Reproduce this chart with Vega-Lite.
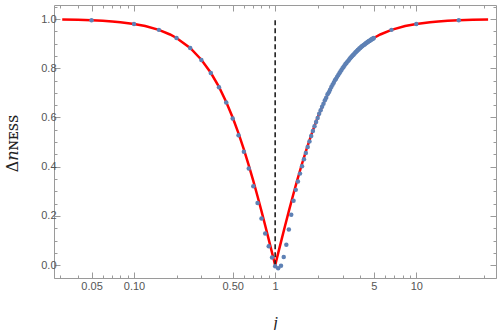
{
  "$schema": "https://vega.github.io/schema/vega-lite/v6.json",
  "width": 442,
  "height": 273,
  "autosize": "none",
  "padding": {"left": 54, "top": 5, "right": 2, "bottom": 52},
  "background": "white",
  "config": {
    "view": {"stroke": "#9a9a9a", "strokeWidth": 1},
    "axis": {
      "domain": false,
      "grid": false,
      "labelColor": "#555555",
      "labelFont": "Liberation Sans",
      "labelFontSize": 11,
      "tickColor": "#9a9a9a",
      "tickWidth": 1
    }
  },
  "datasets": {
    "curve": [
      {"j": 0.031, "v": 0.99808}, {"j": 0.04, "v": 0.99681}, {"j": 0.05, "v": 0.99501}, {"j": 0.06, "v": 0.99283},
      {"j": 0.07, "v": 0.99025}, {"j": 0.08, "v": 0.98728}, {"j": 0.1, "v": 0.9802}, {"j": 0.12, "v": 0.97161},
      {"j": 0.15, "v": 0.95599}, {"j": 0.18, "v": 0.93724}, {"j": 0.2, "v": 0.92308}, {"j": 0.25, "v": 0.88235},
      {"j": 0.3, "v": 0.83486}, {"j": 0.35, "v": 0.78174}, {"j": 0.4, "v": 0.72414}, {"j": 0.45, "v": 0.6632},
      {"j": 0.5, "v": 0.6}, {"j": 0.55, "v": 0.53551}, {"j": 0.6, "v": 0.47059}, {"j": 0.65, "v": 0.40598},
      {"j": 0.7, "v": 0.34228}, {"j": 0.75, "v": 0.28}, {"j": 0.8, "v": 0.21951}, {"j": 0.85, "v": 0.1611},
      {"j": 0.9, "v": 0.10497}, {"j": 0.95, "v": 0.05125}, {"j": 1, "v": 0},
      {"j": 1.0526, "v": 0.05125}, {"j": 1.1111, "v": 0.10497}, {"j": 1.1765, "v": 0.1611}, {"j": 1.25, "v": 0.21951},
      {"j": 1.3333, "v": 0.28}, {"j": 1.4286, "v": 0.34228}, {"j": 1.5385, "v": 0.40598}, {"j": 1.6667, "v": 0.47059},
      {"j": 1.8182, "v": 0.53551}, {"j": 2, "v": 0.6}, {"j": 2.2222, "v": 0.6632}, {"j": 2.5, "v": 0.72414},
      {"j": 2.8571, "v": 0.78174}, {"j": 3.3333, "v": 0.83486}, {"j": 4, "v": 0.88235}, {"j": 5, "v": 0.92308},
      {"j": 5.5556, "v": 0.93724}, {"j": 6.6667, "v": 0.95599}, {"j": 8.3333, "v": 0.97161}, {"j": 10, "v": 0.9802},
      {"j": 12.5, "v": 0.98728}, {"j": 14.286, "v": 0.99025}, {"j": 16.667, "v": 0.99283}, {"j": 20, "v": 0.99501},
      {"j": 25, "v": 0.99681}, {"j": 32.258, "v": 0.99808}
    ],
    "points": [
      {"j": 0.05, "v": 0.995}, {"j": 0.1, "v": 0.98}, {"j": 0.15, "v": 0.956}, {"j": 0.2, "v": 0.923},
      {"j": 0.25, "v": 0.882}, {"j": 0.3, "v": 0.834}, {"j": 0.35, "v": 0.781}, {"j": 0.4, "v": 0.723},
      {"j": 0.45, "v": 0.661}, {"j": 0.5, "v": 0.596}, {"j": 0.55, "v": 0.528}, {"j": 0.6, "v": 0.461},
      {"j": 0.65, "v": 0.393}, {"j": 0.7, "v": 0.321}, {"j": 0.75, "v": 0.253}, {"j": 0.8, "v": 0.19},
      {"j": 0.85, "v": 0.129}, {"j": 0.9, "v": 0.077}, {"j": 0.95, "v": 0.031}, {"j": 1.0, "v": -0.004},
      {"j": 1.05, "v": -0.012}, {"j": 1.1, "v": -0.002}, {"j": 1.15, "v": 0.033}, {"j": 1.2, "v": 0.083},
      {"j": 1.25, "v": 0.145}, {"j": 1.3, "v": 0.205}, {"j": 1.35, "v": 0.262}, {"j": 1.4, "v": 0.306},
      {"j": 1.45, "v": 0.34}, {"j": 1.5, "v": 0.372}, {"j": 1.55, "v": 0.402}, {"j": 1.6, "v": 0.43},
      {"j": 1.65, "v": 0.456}, {"j": 1.7, "v": 0.48}, {"j": 1.75, "v": 0.503}, {"j": 1.8, "v": 0.525},
      {"j": 1.85, "v": 0.545}, {"j": 1.9, "v": 0.564}, {"j": 1.95, "v": 0.582}, {"j": 2.0, "v": 0.598},
      {"j": 2.05, "v": 0.615}, {"j": 2.1, "v": 0.629}, {"j": 2.15, "v": 0.644}, {"j": 2.2, "v": 0.656},
      {"j": 2.25, "v": 0.67}, {"j": 2.3, "v": 0.68}, {"j": 2.35, "v": 0.694}, {"j": 2.4, "v": 0.703},
      {"j": 2.45, "v": 0.713}, {"j": 2.5, "v": 0.724}, {"j": 2.55, "v": 0.733}, {"j": 2.6, "v": 0.741},
      {"j": 2.65, "v": 0.751}, {"j": 2.7, "v": 0.757}, {"j": 2.75, "v": 0.766}, {"j": 2.8, "v": 0.773},
      {"j": 2.85, "v": 0.78}, {"j": 2.9, "v": 0.787}, {"j": 2.95, "v": 0.793}, {"j": 3.0, "v": 0.8},
      {"j": 3.05, "v": 0.805}, {"j": 3.1, "v": 0.811}, {"j": 3.15, "v": 0.817}, {"j": 3.2, "v": 0.821},
      {"j": 3.25, "v": 0.827}, {"j": 3.3, "v": 0.831}, {"j": 3.35, "v": 0.836}, {"j": 3.4, "v": 0.841},
      {"j": 3.45, "v": 0.845}, {"j": 3.5, "v": 0.849}, {"j": 3.55, "v": 0.853}, {"j": 3.6, "v": 0.856},
      {"j": 3.65, "v": 0.86}, {"j": 3.7, "v": 0.864}, {"j": 3.75, "v": 0.867}, {"j": 3.8, "v": 0.87},
      {"j": 3.85, "v": 0.874}, {"j": 3.9, "v": 0.876}, {"j": 3.95, "v": 0.88}, {"j": 4.0, "v": 0.882},
      {"j": 4.05, "v": 0.885}, {"j": 4.1, "v": 0.888}, {"j": 4.15, "v": 0.89}, {"j": 4.2, "v": 0.893},
      {"j": 4.25, "v": 0.895}, {"j": 4.3, "v": 0.897}, {"j": 4.35, "v": 0.9}, {"j": 4.4, "v": 0.902},
      {"j": 4.45, "v": 0.904}, {"j": 4.5, "v": 0.906}, {"j": 4.55, "v": 0.908}, {"j": 4.6, "v": 0.91},
      {"j": 4.65, "v": 0.911}, {"j": 4.7, "v": 0.913}, {"j": 4.75, "v": 0.915}, {"j": 4.8, "v": 0.917},
      {"j": 4.85, "v": 0.918}, {"j": 4.9, "v": 0.92}, {"j": 4.95, "v": 0.921}, {"j": 5.0, "v": 0.923},
      {"j": 6.67, "v": 0.956}, {"j": 10, "v": 0.98}, {"j": 20, "v": 0.995}
    ],
    "marker": [{"j": 1, "y0": 0, "y1": 1}]
  },
  "layer": [
    {
      "data": {"name": "curve"},
      "mark": {"type": "line", "color": "#ff0000", "strokeWidth": 2.5, "clip": true},
      "encoding": {
        "x": {
          "field": "j", "type": "quantitative",
          "scale": {"type": "log", "domain": [0.0271, 36.7], "nice": false, "zero": false},
          "axis": {
            "orient": "bottom",
            "title": "j",
            "titleFont": "Liberation Serif",
            "titleFontStyle": "italic",
            "titleFontWeight": "normal",
            "titleFontSize": 17,
            "titleColor": "#222222",
            "titleBaseline": "middle",
            "titleY": 44,
            "values": [0.03, 0.04, 0.05, 0.06, 0.07, 0.08, 0.09, 0.1, 0.2, 0.3, 0.4, 0.5, 0.6, 0.7, 0.8, 0.9, 1, 2, 3, 4, 5, 6, 7, 8, 9, 10, 20, 30],
            "labelExpr": "datum.value == 0.05 ? '0.05' : datum.value == 0.1 ? '0.10' : datum.value == 0.5 ? '0.50' : datum.value == 1 ? '1' : datum.value == 5 ? '5' : datum.value == 10 ? '10' : ''",
            "tickSize": {"condition": {"test": "indexof([0.05, 0.1, 0.5, 1, 5, 10], datum.value) >= 0", "value": -6}, "value": -3},
            "labelPadding": 14,
            "labelBaseline": "middle"
          }
        },
        "y": {
          "field": "v", "type": "quantitative",
          "scale": {"domain": [-0.052, 1.057], "nice": false, "zero": false},
          "axis": {
            "orient": "left",
            "title": "Δ𝑛ɴᴇꜱꜱ",
            "titleFont": "DejaVu Serif",
            "titleFontWeight": "normal",
            "titleFontSize": 16,
            "titleColor": "#222222",
            "titleAngle": -90,
            "titleBaseline": "middle",
            "titleX": -42,
            "titleY": 138,
            "values": [-0.05, 0, 0.05, 0.1, 0.15, 0.2, 0.25, 0.3, 0.35, 0.4, 0.45, 0.5, 0.55, 0.6, 0.65, 0.7, 0.75, 0.8, 0.85, 0.9, 0.95, 1, 1.05],
            "labelExpr": "abs(datum.value * 5 - round(datum.value * 5)) < 0.001 ? format(datum.value, '.1f') : ''",
            "tickSize": {"condition": {"test": "abs(datum.value * 5 - round(datum.value * 5)) < 0.001", "value": -6}, "value": -3},
            "labelPadding": 4
          }
        }
      }
    },
    {
      "data": {"name": "marker"},
      "mark": {"type": "rule", "color": "#222222", "strokeWidth": 1.6, "strokeDash": [5, 3]},
      "encoding": {
        "x": {
          "field": "j", "type": "quantitative",
          "scale": {"type": "log", "domain": [0.0271, 36.7], "nice": false, "zero": false},
          "axis": {
            "orient": "top", "title": null, "labels": false,
            "values": [0.03, 0.04, 0.05, 0.06, 0.07, 0.08, 0.09, 0.1, 0.2, 0.3, 0.4, 0.5, 0.6, 0.7, 0.8, 0.9, 1, 2, 3, 4, 5, 6, 7, 8, 9, 10, 20, 30],
            "tickSize": {"condition": {"test": "indexof([0.05, 0.1, 0.5, 1, 5, 10], datum.value) >= 0", "value": -6}, "value": -3}
          }
        },
        "y": {
          "field": "y0", "type": "quantitative",
          "scale": {"domain": [-0.052, 1.057], "nice": false, "zero": false},
          "axis": {
            "orient": "right", "title": null, "labels": false,
            "values": [-0.05, 0, 0.05, 0.1, 0.15, 0.2, 0.25, 0.3, 0.35, 0.4, 0.45, 0.5, 0.55, 0.6, 0.65, 0.7, 0.75, 0.8, 0.85, 0.9, 0.95, 1, 1.05],
            "tickSize": {"condition": {"test": "abs(datum.value * 5 - round(datum.value * 5)) < 0.001", "value": -6}, "value": -3}
          }
        },
        "y2": {"field": "y1"}
      }
    },
    {
      "data": {"name": "points"},
      "mark": {"type": "circle", "color": "#5e81b5", "size": 20, "opacity": 1},
      "encoding": {
        "x": {"field": "j", "type": "quantitative", "scale": {"type": "log", "domain": [0.0271, 36.7], "nice": false, "zero": false}, "axis": null},
        "y": {"field": "v", "type": "quantitative", "scale": {"domain": [-0.052, 1.057], "nice": false, "zero": false}, "axis": null}
      }
    }
  ],
  "resolve": {"axis": {"x": "independent", "y": "independent"}}
}
